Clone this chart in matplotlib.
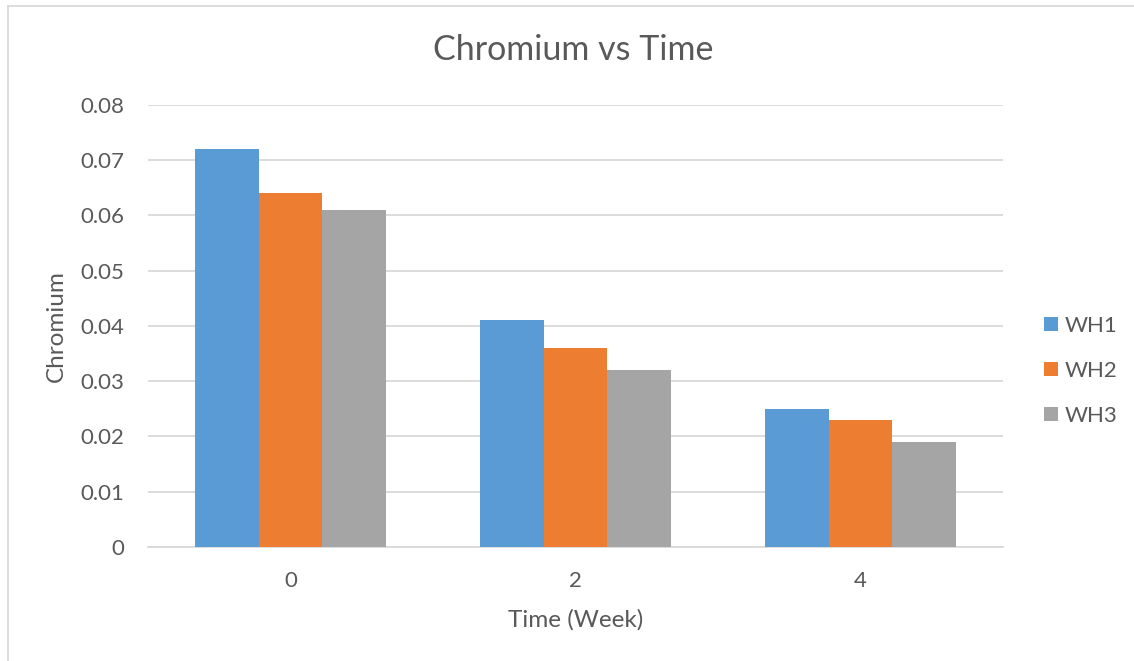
import matplotlib
matplotlib.use("Agg")
import matplotlib.pyplot as plt
from matplotlib.lines import Line2D
import numpy as np

weeks = ["0", "2", "4"]
series_names = ["WH1", "WH2", "WH3"]
wh1 = [0.072, 0.041, 0.025]
wh2 = [0.064, 0.036, 0.023]
wh3 = [0.061, 0.032, 0.019]
y_ticks = [0, 0.01, 0.02, 0.03, 0.04, 0.05, 0.06, 0.07, 0.08]

colors = ["#5b9bd5", "#ed7d31", "#a5a5a5"]
text_color = "#595959"
grid_color = "#d9d9d9"

plt.rcParams["font.family"] = ["Lato", "DejaVu Sans"]

fig = plt.figure(figsize=(11.34, 6.61), dpi=100)
ax = fig.add_axes([0.1305, 0.1725, 0.754, 0.6687])

x = np.arange(len(weeks))
width = 0.2225
for i, (name, vals) in enumerate(zip(series_names, [wh1, wh2, wh3])):
    ax.bar(x + (i - 1) * width, vals, width, color=colors[i], label=name,
           zorder=3, linewidth=0)

ax.set_xlim(-0.5, len(weeks) - 0.5)
ax.set_ylim(0, 0.08)
ax.set_yticks(y_ticks)
ax.set_yticklabels(["0"] + [f"{v:.2f}" for v in y_ticks[1:]])
ax.set_xticks(x)
ax.set_xticklabels(weeks)
ax.yaxis.grid(True, color=grid_color, linewidth=1.3, zorder=0)
ax.tick_params(axis="both", length=0, labelsize=16, labelcolor=text_color)
ax.tick_params(axis="y", pad=17)
ax.tick_params(axis="x", pad=17)
for side in ["top", "right", "left"]:
    ax.spines[side].set_visible(False)
ax.spines["bottom"].set_color(grid_color)
ax.spines["bottom"].set_linewidth(1.3)

ax.set_xlabel("Time (Week)", fontsize=17.5, color=text_color, labelpad=13)
ax.set_ylabel("Chromium", fontsize=17.5, color=text_color, labelpad=10)
fig.text(0.5055, 0.924, "Chromium vs Time", ha="center", va="center",
         fontsize=24.5, color=text_color)

ax.legend(loc="center left", bbox_to_anchor=(1.025, 0.398), frameon=False,
          fontsize=16, labelcolor=text_color, handlelength=0.6,
          handleheight=0.6, handletextpad=0.32, labelspacing=1.13)

# chart frame edges
fig.add_artist(Line2D([8 / 1134, 8 / 1134], [0, 1 - 6 / 661],
                      color=grid_color, linewidth=1.3))
fig.add_artist(Line2D([8 / 1134, 1], [1 - 6 / 661, 1 - 6 / 661],
                      color=grid_color, linewidth=1.3))

fig.savefig("out.png", dpi=100)
